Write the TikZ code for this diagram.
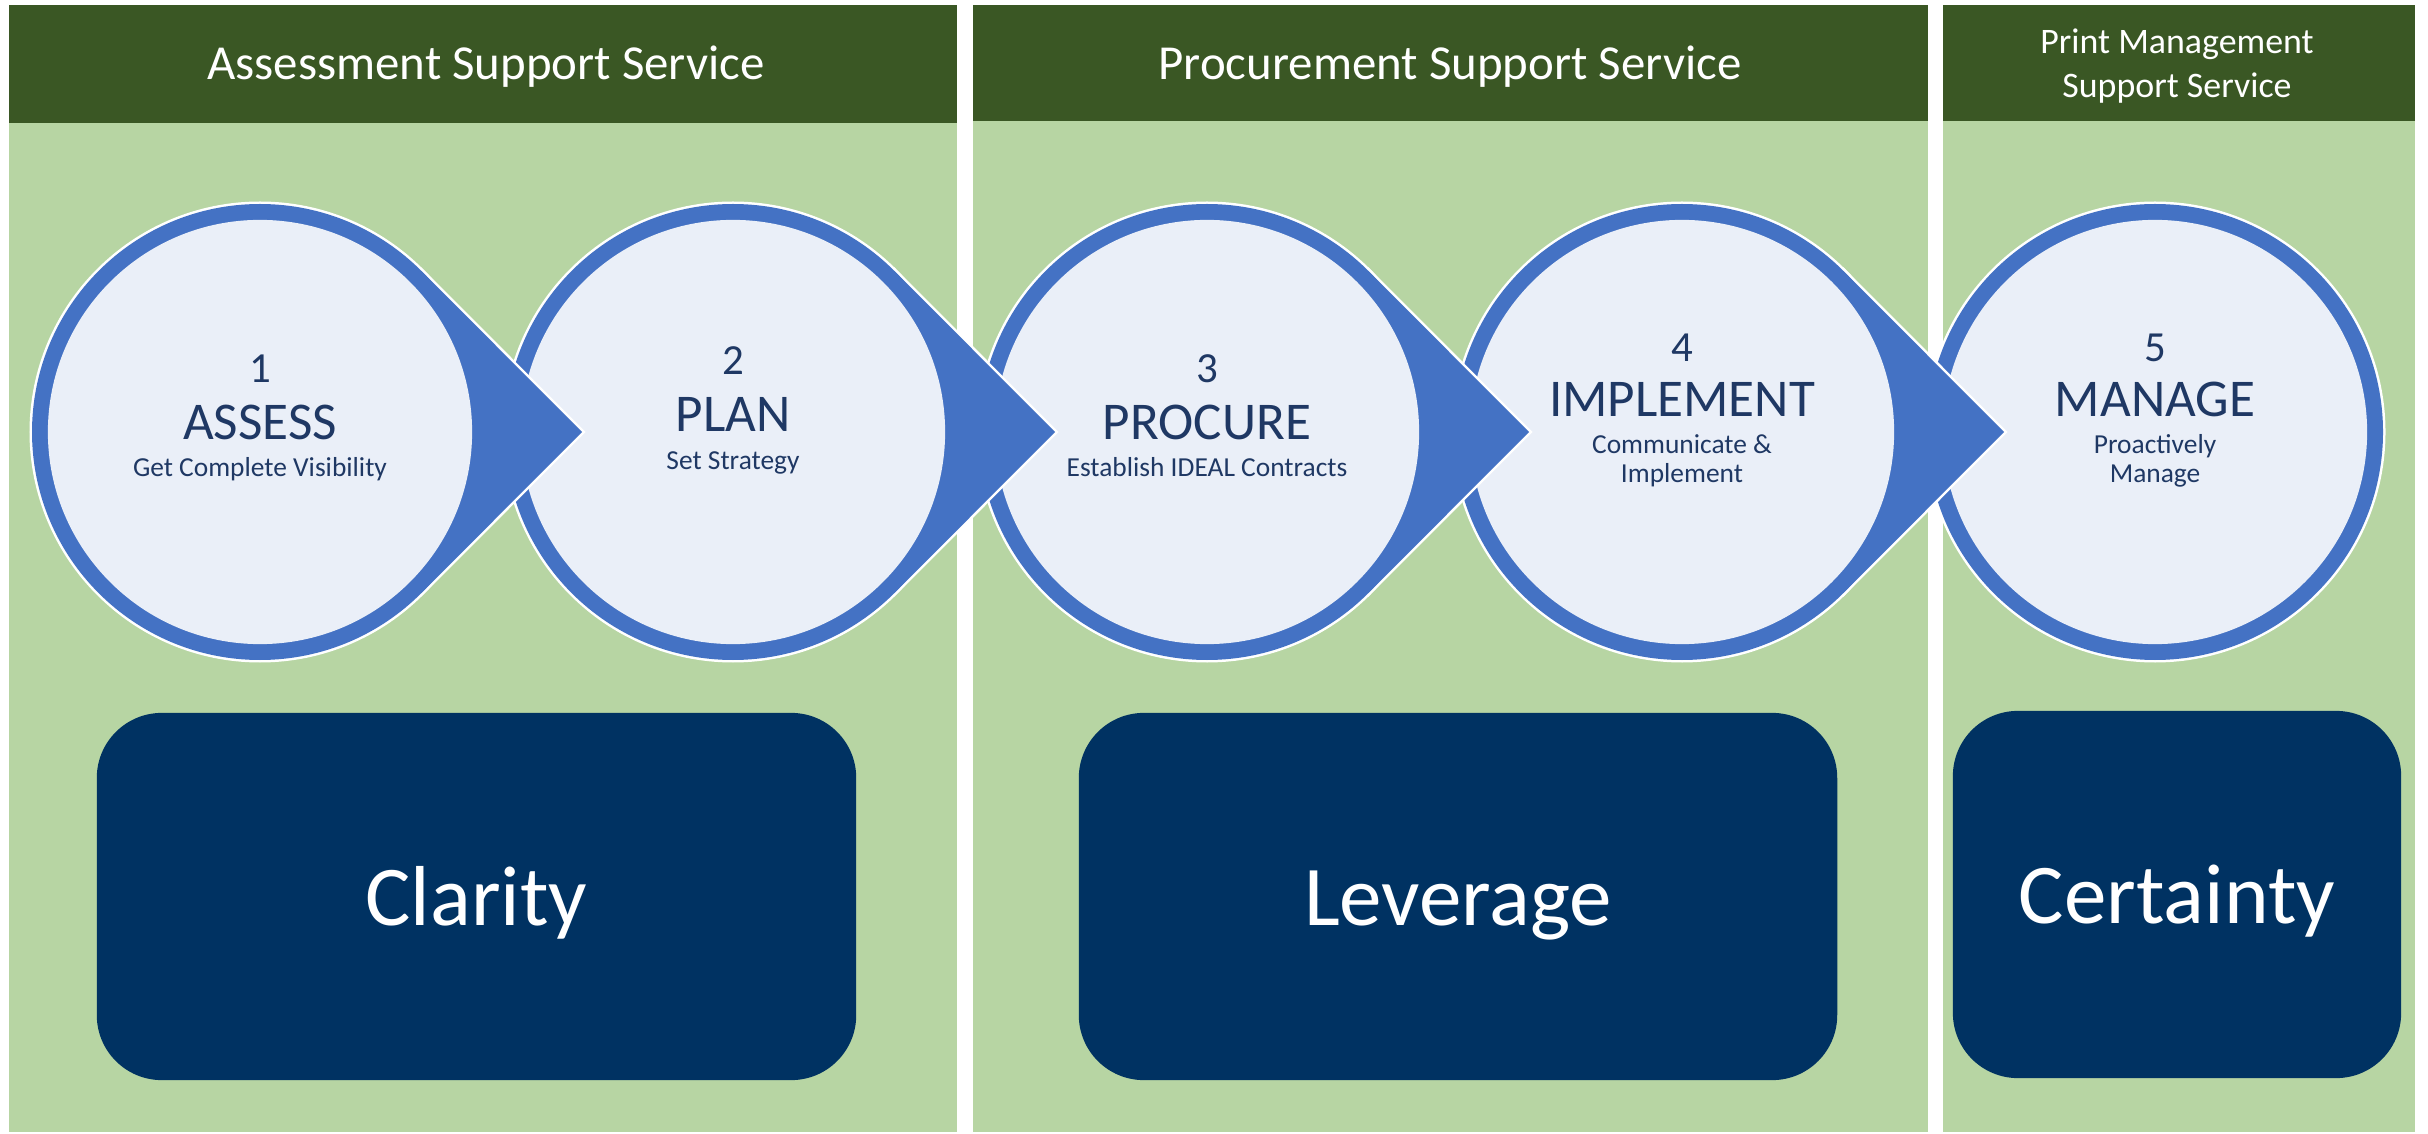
\documentclass[tikz,border=0pt]{standalone}
\usepackage{fontspec}
\setmainfont{Carlito}
\definecolor{hdr}{HTML}{3A5724}
\definecolor{bodyg}{HTML}{B7D5A3}
\definecolor{ringb}{HTML}{4472C4}
\definecolor{innerc}{HTML}{EAEFF8}
\definecolor{dbox}{HTML}{003262}
\definecolor{navy}{HTML}{1F3864}
\begin{document}
\begin{tikzpicture}[x=0.01cm,y=-0.01cm,
  hdrtext/.style={text=white,font=\fontsize{13.9}{16}\selectfont,anchor=base,inner sep=0pt},
  hdrsmall/.style={text=white,font=\fontsize{10.2}{12}\selectfont,anchor=base,inner sep=0pt},
  numtext/.style={text=navy,font=\fontsize{12.2}{14}\selectfont,anchor=base,inner sep=0pt},
  titletext/.style={text=navy,font=\fontsize{15.1}{17}\selectfont,anchor=base,inner sep=0pt},
  subtext/.style={text=navy,font=\fontsize{7.8}{9}\selectfont,anchor=base,inner sep=0pt},
  innercircle/.style={circle,fill=innerc,inner sep=0pt,minimum size=4.24cm},
  boxnode/.style={fill=dbox,rounded corners=0.65cm,inner sep=0pt},
  boxtext/.style={text=white,font=\fontsize{24.2}{28}\selectfont,anchor=base,inner sep=0pt}]
\useasboundingbox (0,0) rectangle (2428,1134);
\fill[white] (0,0) rectangle (2428,1134);
% panels
\fill[bodyg] (9,5) rectangle (957,1132);
\fill[hdr] (9,5) rectangle (957,123);
\fill[bodyg] (973,5) rectangle (1928,1132);
\fill[hdr] (973,5) rectangle (1928,121);
\fill[bodyg] (1943,5) rectangle (2415,1132);
\fill[hdr] (1943,5) rectangle (2415,121);
\node[hdrtext] (h1) at (486,80) {Assessment Support Service};
\node[hdrtext] (h2) at (1450,80) {Procurement Support Service};
\node[hdrsmall] (h3a) at (2177,54) {Print Management};
\node[hdrsmall] (h3b) at (2177,98) {Support Service};
% circles, drawn from last to first so arrows lie on top
\foreach \cx/\arr/\n in {2155/0/5,1682/1/4,1207/1/3,733/1/2,260/1/1}{
  \begin{scope}[shift={(\cx,432)}]
    \draw[white,line width=0.05cm] (0,0) circle[radius=228];
    \ifnum\arr=1
      \draw[white,line width=0.05cm] (322,0) -- (45:228) -- (0,0) -- (-45:228) -- cycle;
    \fi
    \fill[ringb] (0,0) circle[radius=228];
    \ifnum\arr=1
      \fill[ringb] (322,0) -- (45:228) -- (0,0) -- (-45:228) -- cycle;
    \fi
  \end{scope}
  \node[innercircle] (c\n) at (\cx,432) {};
}
% circle texts
\node[numtext] (n1) at (260,383) {1};
\node[titletext] (t1) at (260,440) {ASSESS};
\node[subtext] (s1) at (260,477) {Get Complete Visibility};
\node[numtext] (n2) at (733,375) {2};
\node[titletext] (t2) at (733,432) {PLAN};
\node[subtext] (s2) at (733,470) {Set Strategy};
\node[numtext] (n3) at (1207,383) {3};
\node[titletext] (t3) at (1207,440) {PROCURE};
\node[subtext] (s3) at (1207,477) {Establish IDEAL Contracts};
\node[numtext] (n4) at (1682,362) {4};
\node[titletext] (t4) at (1682,417) {IMPLEMENT};
\node[subtext] (s4a) at (1682,454) {Communicate \&};
\node[subtext] (s4b) at (1682,483) {Implement};
\node[numtext] (n5) at (2155,362) {5};
\node[titletext] (t5) at (2155,417) {MANAGE};
\node[subtext] (s5a) at (2155,454) {Proactively};
\node[subtext] (s5b) at (2155,483) {Manage};
% boxes
\node[boxnode,minimum width=7.59cm,minimum height=3.67cm] (b1) at (476.5,896.5) {};
\node[boxnode,minimum width=7.58cm,minimum height=3.67cm] (b2) at (1458,896.5) {};
\node[boxnode,minimum width=4.48cm,minimum height=3.67cm] (b3) at (2177,894.5) {};
\node[boxtext] (l1) at (476.5,925) {Clarity};
\node[boxtext] (l2) at (1458,925) {Leverage};
\node[boxtext] (l3) at (2177,923) {Certainty};
\end{tikzpicture}
\end{document}
